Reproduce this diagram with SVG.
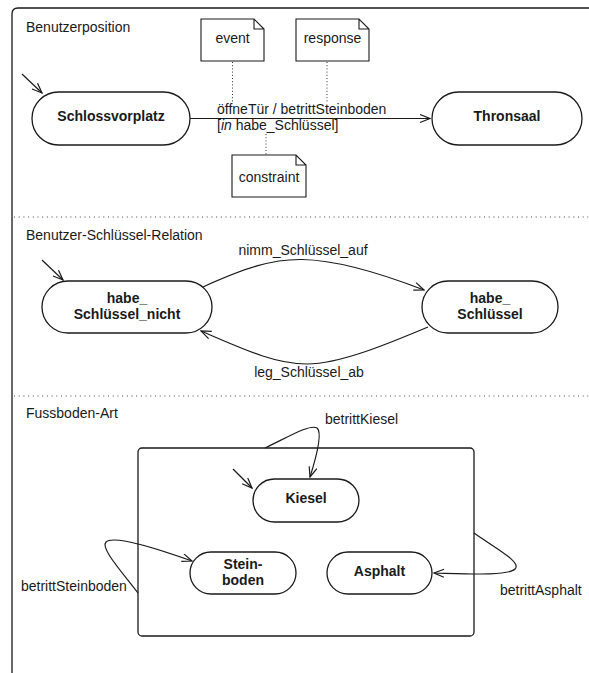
<svg xmlns="http://www.w3.org/2000/svg" width="589" height="673" viewBox="0 0 589 673">
<defs>
<marker id="arr" markerWidth="12" markerHeight="10" refX="11" refY="4.5" orient="auto" markerUnits="userSpaceOnUse">
<path d="M1,0.5 L11,4.5 L1,8.5" fill="none" stroke="#1a1a1a" stroke-width="1.2"/>
</marker>
<style>
text{font-family:"Liberation Sans",Arial,Helvetica,sans-serif;font-size:14px;fill:#1a1a1a}
.b{font-weight:bold;text-anchor:middle}
.m{text-anchor:middle}
.st{fill:#fff;stroke:#1a1a1a;stroke-width:1.3}
.note{fill:#fff;stroke:#1a1a1a;stroke-width:1.1}
.ln{fill:none;stroke:#1a1a1a;stroke-width:1.2}
.dot{fill:none;stroke:#333;stroke-width:1;stroke-dasharray:1 2.2}
.sep{fill:none;stroke:#444;stroke-width:1;stroke-dasharray:1 3.7}
</style>
</defs>
<rect width="589" height="673" fill="#fff"/>
<g id="frame">
<path d="M12,673 L12,14 Q12,8 18,8 L589,8" fill="none" stroke="#1a1a1a" stroke-width="1.3"/>
<line class="sep" x1="14" y1="217" x2="589" y2="217"/>
<line class="sep" x1="14" y1="396" x2="589" y2="396"/>
<text x="26" y="32">Benutzerposition</text>
<text x="26" y="240">Benutzer-Schlüssel-Relation</text>
<text x="26" y="418">Fussboden-Art</text>
</g>
<g id="connectors">
<line class="ln" x1="22" y1="74" x2="42" y2="93" marker-end="url(#arr)"/>
<line class="ln" x1="190" y1="118.5" x2="430" y2="118.5" marker-end="url(#arr)"/>
<line class="dot" x1="232.5" y1="62" x2="232.5" y2="103"/>
<line class="dot" x1="327" y1="62" x2="327" y2="103"/>
<line class="dot" x1="266" y1="134" x2="266" y2="155"/>
<text x="217" y="114">öffneTür / betrittSteinboden</text>
<text x="217" y="130">[<tspan font-style="italic">in</tspan> habe_Schlüssel]</text>
<line class="ln" x1="42" y1="260" x2="63" y2="280" marker-end="url(#arr)"/>
<path class="ln" d="M203,287 C245,268 272,259 302,259.5 C335,260 380,273 424,290" marker-end="url(#arr)"/>
<path class="ln" d="M428,327 C390,343 340,364 307,364 C275,364 245,350 201,331" marker-end="url(#arr)"/>
<text class="m" x="303" y="255">nimm_Schlüssel_auf</text>
<text class="m" x="309" y="377">leg_Schlüssel_ab</text>
<line class="ln" x1="233" y1="469" x2="252" y2="488" marker-end="url(#arr)"/>
<path class="ln" d="M265,448 C290,436 310,424 317,428 C323,433 316,458 310,477" marker-end="url(#arr)"/>
<path class="ln" d="M138,593 C122,572 100,548 106,542 C113,535 150,546 192,561" marker-end="url(#arr)"/>
<path class="ln" d="M474,533 C495,548 522,562 515,569 C508,576 470,574 434,573" marker-end="url(#arr)"/>
<text x="325" y="424">betrittKiesel</text>
<text x="21" y="591">betrittSteinboden</text>
<text x="500" y="595">betrittAsphalt</text>
</g>
<g id="note-event">
<path class="note" d="M201,19 L254,19 L264,29 L264,61 L201,61 Z M254,19 L254,29 L264,29"/>
<text class="m" x="232.5" y="43">event</text>
</g>
<g id="note-response">
<path class="note" d="M296,19 L359,19 L369,29 L369,61 L296,61 Z M359,19 L359,29 L369,29"/>
<text class="m" x="332.5" y="43">response</text>
</g>
<g id="note-constraint">
<path class="note" d="M232,155 L296,155 L306,165 L306,197 L232,197 Z M296,155 L296,165 L306,165"/>
<text class="m" x="269" y="182">constraint</text>
</g>
<g id="Schlossvorplatz">
<rect class="st" x="32" y="92" width="158" height="53" rx="26.5"/>
<text class="b" x="111" y="121">Schlossvorplatz</text>
</g>
<g id="Thronsaal">
<rect class="st" x="432" y="92" width="150" height="53" rx="26.5"/>
<text class="b" x="507" y="121">Thronsaal</text>
</g>
<g id="habe_Schluessel_nicht">
<rect class="st" x="42" y="281" width="170" height="52" rx="26"/>
<text class="b" x="127" y="303">habe_</text>
<text class="b" x="127" y="319">Schlüssel_nicht</text>
</g>
<g id="habe_Schluessel">
<rect class="st" x="422" y="281" width="136" height="52" rx="26"/>
<text class="b" x="490" y="303">habe_</text>
<text class="b" x="490" y="319">Schlüssel</text>
</g>
<g id="Fussboden">
<rect x="138" y="448" width="336" height="188" rx="4" fill="none" stroke="#1a1a1a" stroke-width="1.3"/>
</g>
<g id="Kiesel">
<rect class="st" x="253" y="479" width="106" height="43" rx="21.5"/>
<text class="b" x="306" y="503">Kiesel</text>
</g>
<g id="Steinboden">
<rect class="st" x="190" y="552" width="106" height="42" rx="21"/>
<text class="b" x="243" y="569">Stein-</text>
<text class="b" x="243" y="585">boden</text>
</g>
<g id="Asphalt">
<rect class="st" x="327" y="552" width="105" height="42" rx="21"/>
<text class="b" x="379.5" y="576">Asphalt</text>
</g>
</svg>
